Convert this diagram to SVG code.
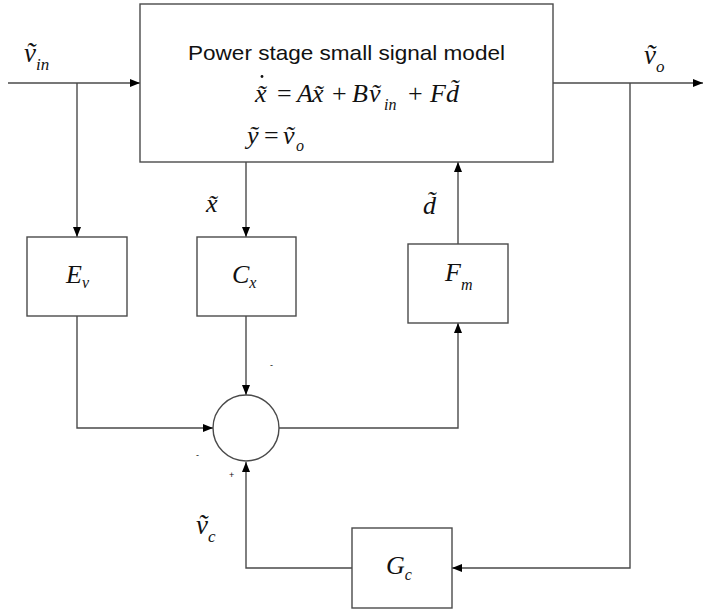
<svg xmlns="http://www.w3.org/2000/svg" width="703" height="610" viewBox="0 0 703 610">
<style>
.box{fill:#fff;stroke:#4a4a4a;stroke-width:1.4}
.ln{fill:none;stroke:#4a4a4a;stroke-width:1.4;marker-end:url(#ah)}
.m{font-family:"Liberation Serif","Times New Roman",serif;font-style:italic;fill:#111}
.r{font-family:"Liberation Serif","Times New Roman",serif;fill:#111}
.s{font-family:"Liberation Sans",Arial,sans-serif;fill:#111}
</style>
<defs>
<marker id="ah" viewBox="0 0 10 8" refX="10" refY="4" markerWidth="10" markerHeight="8" markerUnits="userSpaceOnUse" orient="auto">
<path d="M0,0 L10,4 L0,8 Z" fill="#000"/>
</marker>
</defs>
<rect width="703" height="610" fill="#fff"/>

<g id="connectors">
<path class="ln" d="M8,83 H140"/>
<path class="ln" d="M553,83 H703"/>
<path class="ln" d="M77,83 V237"/>
<path class="ln" d="M246,162 V237"/>
<path class="ln" d="M458,244 V162"/>
<path class="ln" d="M77,316 V428 H213"/>
<path class="ln" d="M246,316 V395"/>
<path class="ln" d="M279,428 H458 V323"/>
<path class="ln" d="M630,83 V568 H452"/>
<path class="ln" d="M352,568 H246 V462"/>
</g>

<g id="power-stage">
<rect class="box" x="140" y="4" width="413" height="158"/>
<text class="s" x="188" y="60" font-size="21" textLength="317" lengthAdjust="spacingAndGlyphs">Power stage small signal model</text>
<circle cx="262" cy="76.5" r="1.4" fill="#111"/>
<text class="m" font-size="26" y="102"><tspan x="255">x&#x303;</tspan><tspan x="277" font-style="normal">=</tspan><tspan x="297">A</tspan><tspan x="312">x&#x303;</tspan><tspan x="332" font-style="normal">+</tspan><tspan x="352">B</tspan><tspan x="369">&#x1E7D;</tspan><tspan x="384" dy="8" font-size="16">in</tspan><tspan x="408" dy="-8" font-style="normal">+</tspan><tspan x="430">F</tspan><tspan x="446">d&#x303;</tspan></text>
<text class="m" font-size="26" y="144"><tspan x="247">&#x1EF9;</tspan><tspan x="264" font-style="normal">=</tspan><tspan x="283">&#x1E7D;</tspan><tspan x="296" dy="7" font-size="16">o</tspan></text>
</g>

<g id="Ev">
<rect class="box" x="27" y="237" width="100" height="79"/>
<text class="m" font-size="26" x="66" y="283">E<tspan dy="5" font-size="16">v</tspan></text>
</g>

<g id="Cx">
<rect class="box" x="197" y="237" width="99" height="79"/>
<text class="m" font-size="26" x="232" y="283">C<tspan dy="5" font-size="16">x</tspan></text>
</g>

<g id="Fm">
<rect class="box" x="408" y="244" width="100" height="79"/>
<text class="m" font-size="26" x="445" y="281">F<tspan dy="9" font-size="16">m</tspan></text>
</g>

<g id="Gc">
<rect class="box" x="352" y="528" width="100" height="80"/>
<text class="m" font-size="26" x="386" y="574">G<tspan dy="6" font-size="16">c</tspan></text>
</g>

<g id="sum">
<circle class="box" cx="246" cy="428" r="33"/>
<text class="s" font-size="9" x="270" y="368">-</text>
<text class="s" font-size="9" x="196" y="458">-</text>
<text class="s" font-size="9" x="229" y="478">+</text>
</g>

<g id="labels">
<text class="m" font-size="27" x="24" y="62">&#x1E7D;<tspan dy="8" font-size="17">in</tspan></text>
<text class="m" font-size="27" x="644" y="64">&#x1E7D;<tspan dy="8" font-size="17">o</tspan></text>
<text class="m" font-size="26" x="206" y="212">x&#x303;</text>
<text class="m" font-size="26" x="423" y="214">d&#x303;</text>
<text class="m" font-size="27" x="196" y="534">&#x1E7D;<tspan dy="8" font-size="17">c</tspan></text>
</g>
</svg>
